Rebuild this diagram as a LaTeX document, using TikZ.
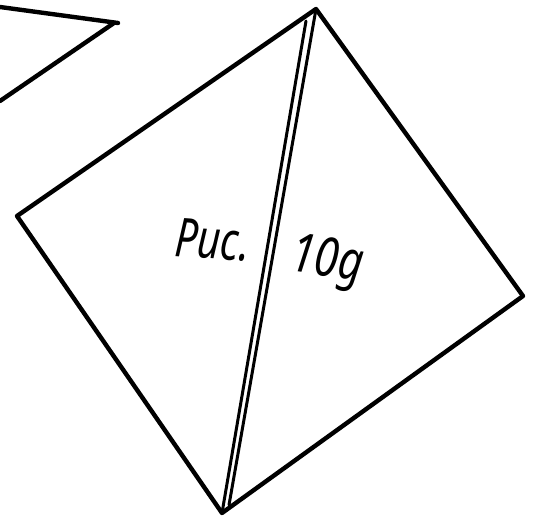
\documentclass[tikz,border=0pt]{standalone}
\usepackage{fontspec}
\setmainfont{Liberation Serif}
\newfontfamily\handfont[Script=Cyrillic, Language=Serbian]{Noto Sans}
\begin{document}
\begin{tikzpicture}[x=1pt, y=-1pt, line cap=round, line join=round,
        edge/.style={line width=4.4pt},
        seam/.style={line width=3pt},
        hand/.style={font=\handfont\fontsize{54}{60}\selectfont\itshape, inner sep=0pt, transform shape}]
        \useasboundingbox (0,0) rectangle (537,516);
    % Corners of the sheet
        \coordinate (T) at (316,9);
        \coordinate (R) at (523,296);
        \coordinate (B) at (222,513);
        \coordinate (L) at (17,216);
        \coordinate (Ta) at (306,21);
        \coordinate (Ba) at (229,505);
    % Draw edges
        \draw[edge] (T) -- (R) -- (B) -- (L) -- cycle;
    % Draw fold
        \draw[seam] (T) -- (Ba);
        \draw[seam] (Ta) -- (B);
    % Corner of the sheet above
        \coordinate (C) at (118,23);
        \draw[edge] (0,7) -- (C);
        \draw[edge] ([xshift=-4pt]C) -- (0,101);
    % Labels
        \node[hand, rotate=-4, xscale=0.75] (fig) at (213,240) {Рис.};
        \node[hand, rotate=-8, xscale=0.8] (num) at (327,263) {10д};
    \end{tikzpicture}
\end{document}
